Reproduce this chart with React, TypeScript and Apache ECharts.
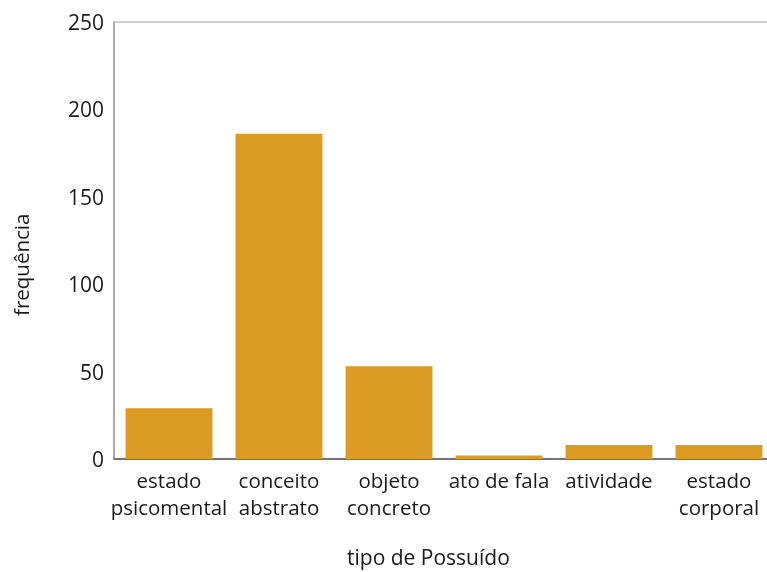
import React, { useEffect, useRef } from "react";
import * as echarts from "echarts";

const categories = [
  "estado\npsicomental",
  "conceito\nabstrato",
  "objeto\nconcreto",
  "ato de fala",
  "atividade",
  "estado\ncorporal",
];
const values = [29, 186, 53, 2, 8, 8];
const yTicks = { min: 0, max: 250, interval: 50 };
const xTitle = "tipo de Possuído";
const yTitle = "frequência";

export default function App() {
  const ref = useRef<HTMLDivElement>(null);
  useEffect(() => {
    if (!ref.current) return;
    const chart = echarts.init(ref.current, null, { renderer: "svg" });
    const font = "'Open Sans', 'Noto Sans', sans-serif";
    chart.setOption({
      animation: false,
      textStyle: { fontFamily: font },
      grid: {
        left: 114,
        top: 22,
        width: 660,
        height: 437,
        show: true,
        borderColor: "#a0a0a0",
        borderWidth: 1,
      },
      xAxis: {
        type: "category",
        data: categories,
        axisLine: { lineStyle: { color: "#555", width: 1.5 } },
        axisTick: { alignWithLabel: true, length: 5, lineStyle: { color: "#555" } },
        axisLabel: {
          interval: 0,
          fontSize: 20.5,
          color: "#1a1a1a",
          margin: 7,
          lineHeight: 27,
          fontFamily: font,
        },
      },
      yAxis: {
        type: "value",
        min: yTicks.min,
        max: yTicks.max,
        interval: yTicks.interval,
        axisLine: { show: true, lineStyle: { color: "#a0a0a0", width: 1.5 } },
        axisTick: { show: false },
        splitLine: { show: false },
        axisLabel: { fontSize: 21, color: "#1a1a1a", margin: 10, fontFamily: font },
      },
      series: [
        {
          type: "bar",
          data: values,
          barWidth: "79%",
          itemStyle: { color: "#DC9B22" },
        },
      ],
      graphic: [
        {
          type: "text",
          left: 347,
          top: 546,
          style: { text: xTitle, fontSize: 21, fill: "#1a1a1a", fontFamily: font },
        },
        {
          type: "text",
          x: 10,
          y: 316,
          rotation: Math.PI / 2,
          style: { text: yTitle, fontSize: 20.5, fill: "#1a1a1a", fontFamily: font },
        },
      ],
    });
    return () => chart.dispose();
  }, []);
  return (
    <div
      style={{
        position: "fixed",
        left: 0,
        top: 0,
        width: 767,
        height: 572,
        overflow: "hidden",
      }}
    >
      <div ref={ref} style={{ width: 790, height: 572 }} />
    </div>
  );
}
